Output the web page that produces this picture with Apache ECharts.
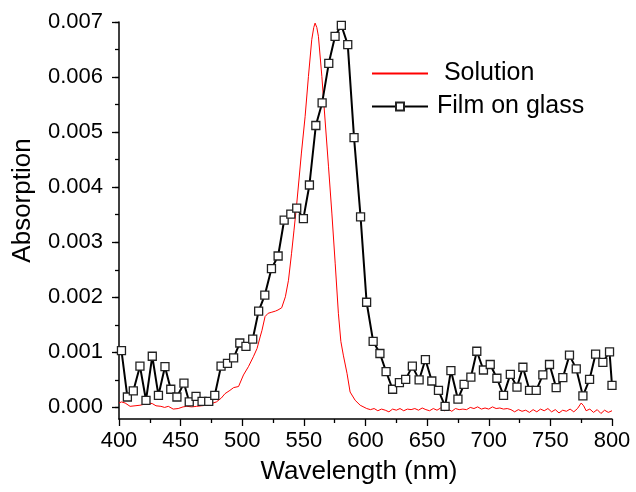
<!DOCTYPE html>
<html>
<head>
<meta charset="utf-8">
<script src="https://cdn.jsdelivr.net/npm/echarts@6/dist/echarts.min.js"></script>
<style>html,body{margin:0;padding:0;background:#fff}#c{width:636px;height:492px}</style>
</head>
<body>
<div id="c"></div>
<script>
// ---- data ----
var seriesNames = ['Solution', 'Film on glass'];
var xTickLabels = [400, 450, 500, 550, 600, 650, 700, 750, 800];
var yTickLabels = [0, 0.001, 0.002, 0.003, 0.004, 0.005, 0.006, 0.007];
var yMinorTicks = [0, 0.0005, 0.001, 0.0015, 0.002, 0.0025, 0.003, 0.0035, 0.004, 0.0045, 0.005, 0.0055, 0.006, 0.0065, 0.007];

// Solution (red line): [wavelength nm, absorption]
var solution = [
  [400,0.00008],[402,0.0001],[405,0.00008],[409,0.00002],[413,0.00003],[417,0.00004],[421,0.00006],
  [424,0.00008],[427,0.00007],[430,0.00003],[434,0.00002],[437,0.0],[440,0.00002],[444,-0.00003],
  [448,-0.00002],[452,0.00001],[455,0.00002],[459,0.00001],[463,0.00002],[467,0.00003],[471,0.00004],
  [475,0.00007],[479,0.0001],[483,0.00017],[486,0.00025],[490,0.00031],[493,0.00036],[497,0.00038],
  [501,0.00059],[505,0.00074],[509,0.00092],[512,0.00107],[514.5,0.00128],[516,0.0014],[518.5,0.00165],
  [521,0.00171],[524,0.00173],[527,0.00175],[529,0.00177],[532,0.00181],[535,0.00201],[537.5,0.00231],
  [540,0.0028],[542,0.00322],[544,0.00365],[546,0.00413],[548,0.00462],[551,0.00528],[553.7,0.00601],
  [556.4,0.00668],[558,0.0069],[559.1,0.00698],[560.5,0.0069],[561.8,0.00674],[564.6,0.00601],
  [567.2,0.00522],[570,0.00437],[572.7,0.00353],[575.4,0.00262],[578,0.00171],[580,0.0012],
  [582,0.00095],[585,0.00062],[587.5,0.00028],[591.6,0.00013],[595.7,0.00004],[601,-0.00002],
  [604,-0.00004],[607,-0.00002],[610,-0.00006],[613,-0.00003],[616,-0.00005],[619,-0.00008],
  [622,-0.00003],[625,-0.00005],[628,-0.00002],[631,-0.00006],[634,-0.00003],[637,-0.00004],
  [640,-0.00002],[643,-0.00005],[646,-0.00001],[649,-0.00004],[652,-0.00006],[655,-0.00002],
  [658,-0.00005],[661,-0.00001],[664,-0.00006],[667,-0.00003],[670,-0.00007],[673,-0.00002],
  [676,-0.00004],[679,-0.00003],[682,-0.00004],[685,0.0],[688,-0.00002],[691,0.00001],[694,-0.00003],
  [697,-0.00001],[700,-0.00003],[703,0.00001],[706,-0.00002],[709,-0.00001],[712,-0.00003],
  [715,-0.00002],[718,-0.00004],[721,-0.00008],[724,-0.00004],[727,-0.00007],[730,-0.00005],
  [733,-0.00009],[736,-0.00004],[739,-0.00008],[742,-0.00003],[745,-0.00006],[748,-0.00002],
  [751,-0.00008],[754,-0.00004],[757,-0.0001],[760,-0.00005],[763,-0.00007],[766,-0.00003],
  [769,-0.00008],[772,-0.00002],[775,0.00008],[777,0.00003],[779,-0.00006],[782,-0.00003],
  [785,-0.00009],[788,-0.00004],[791,-0.00011],[794,-0.00005],[797,-0.00009],[800,-0.00006]
];

// Film on glass (black line + open squares): [wavelength nm, absorption]
var film = [
  [402,0.00103],[406.8,0.00019],[411.6,0.0003],[417,0.00075],[421.9,0.00013],[427,0.00093],
  [432,0.00022],[437.3,0.00074],[442,0.00033],[447,0.00019],[452.7,0.00044],[457,0.0001],
  [462.5,0.0002],[467.4,0.00011],[472.8,0.00011],[477.7,0.00022],[482.8,0.00075],[488,0.0008],
  [493,0.0009],[498,0.00117],[503,0.00111],[508.5,0.00124],[513.3,0.00175],[518.3,0.00204],
  [523.7,0.00252],[529.1,0.00275],[534,0.0034],[539.4,0.00351],[544.2,0.00362],[549.6,0.00343],
  [554.5,0.00404],[559.7,0.00512],[564.8,0.00553],[570.2,0.00625],[575.3,0.00674],[580.4,0.00694],
  [585.6,0.00659],[590.7,0.0049],[596,0.00346],[600.9,0.00191],[606.2,0.0012],[611.7,0.00098],
  [616.7,0.00065],[622,0.00033],[627.5,0.00045],[632.6,0.00051],[638,0.00075],[643.5,0.0005],
  [648.6,0.00087],[653.8,0.00048],[659.2,0.00031],[664.6,0.00002],[669.3,0.00067],[675,0.00015],
  [680,0.00042],[685.5,0.00055],[690.3,0.00102],[695.7,0.00068],[701.2,0.00078],[706.6,0.00053],
  [712,0.00022],[717.5,0.0006],[722.9,0.00037],[727.7,0.00073],[733.1,0.00031],[738.5,0.00031],
  [743.9,0.00059],[749.3,0.00078],[754.7,0.00036],[760.1,0.00054],[765.5,0.00095],[771,0.0007],
  [776.4,0.00021],[781.8,0.00051],[786.7,0.00097],[792.6,0.00082],[798,0.00101],[800,0.0004]
];

var FONT = "'Liberation Sans', Arial, sans-serif";
var chart = echarts.init(document.getElementById('c'), null, {renderer: 'canvas'});
chart.setOption({
  animation: false,
  backgroundColor: '#fff',
  grid: {left: 119, right: 24, top: 22, bottom: 73, containLabel: false},
  legend: {
    orient: 'vertical', left: 366, top: 56, itemGap: 8,
    itemWidth: 56, itemHeight: 10,
    data: [{name: seriesNames[0], itemStyle: {opacity: 0}}, {name: seriesNames[1]}],
    formatter: function (n) { return n === 'Solution' ? ' ' + n : n; },
    textStyle: {fontFamily: FONT, fontSize: 25, color: '#000', padding: [0, 0, 0, 4]}
  },
  xAxis: {
    type: 'value', min: xTickLabels[0], max: xTickLabels[xTickLabels.length - 1], interval: 50,
    name: 'Wavelength (nm)', nameLocation: 'middle', nameGap: 40,
    nameTextStyle: {fontFamily: FONT, fontSize: 26, color: '#000', padding: [0, 13, 0, 0]},
    axisLine: {show: true, onZero: false, lineStyle: {color: '#000', width: 1.5}},
    axisTick: {show: true, inside: false, length: 7, lineStyle: {color: '#000', width: 1.3}},
    minorTick: {show: true, splitNumber: 2, length: 4, lineStyle: {color: '#000', width: 1.3}},
    axisLabel: {fontFamily: FONT, fontSize: 22, color: '#000', margin: 11},
    splitLine: {show: false}, minorSplitLine: {show: false}
  },
  yAxis: [{
    type: 'value', min: -0.00021, max: 0.007, position: 'left',
    name: 'Absorption', nameLocation: 'middle', nameGap: 83, nameRotate: 90,
    nameTextStyle: {fontFamily: FONT, fontSize: 26, color: '#000', padding: [0, 0, 0, 40]},
    axisLine: {show: true, onZero: false, lineStyle: {color: '#000', width: 1.5}},
    axisTick: {show: true, inside: false, length: 7, customValues: yTickLabels, lineStyle: {color: '#000', width: 1.3}},
    axisLabel: {fontFamily: FONT, fontSize: 22, color: '#000', margin: 16, customValues: yTickLabels,
      formatter: function (v) { return v.toFixed(3); }},
    splitLine: {show: false}
  }, {
    type: 'value', min: -0.00021, max: 0.007, position: 'left',
    axisLine: {show: false},
    axisTick: {show: true, inside: false, length: 4, customValues: yMinorTicks, lineStyle: {color: '#000', width: 1.3}},
    axisLabel: {show: false},
    splitLine: {show: false}
  }],
  series: [{
    name: seriesNames[0], type: 'line', data: solution, showSymbol: false, symbol: 'none',
    lineStyle: {color: '#ff0000', width: 1}, itemStyle: {color: '#ff0000'}, z: 2
  }, {
    name: seriesNames[1], type: 'line', data: film, symbol: 'rect', symbolSize: 8, showSymbol: true,
    lineStyle: {color: '#000', width: 2},
    itemStyle: {color: '#fff', borderColor: '#222', borderWidth: 1.3}, z: 3
  }]
});
</script>
</body>
</html>
